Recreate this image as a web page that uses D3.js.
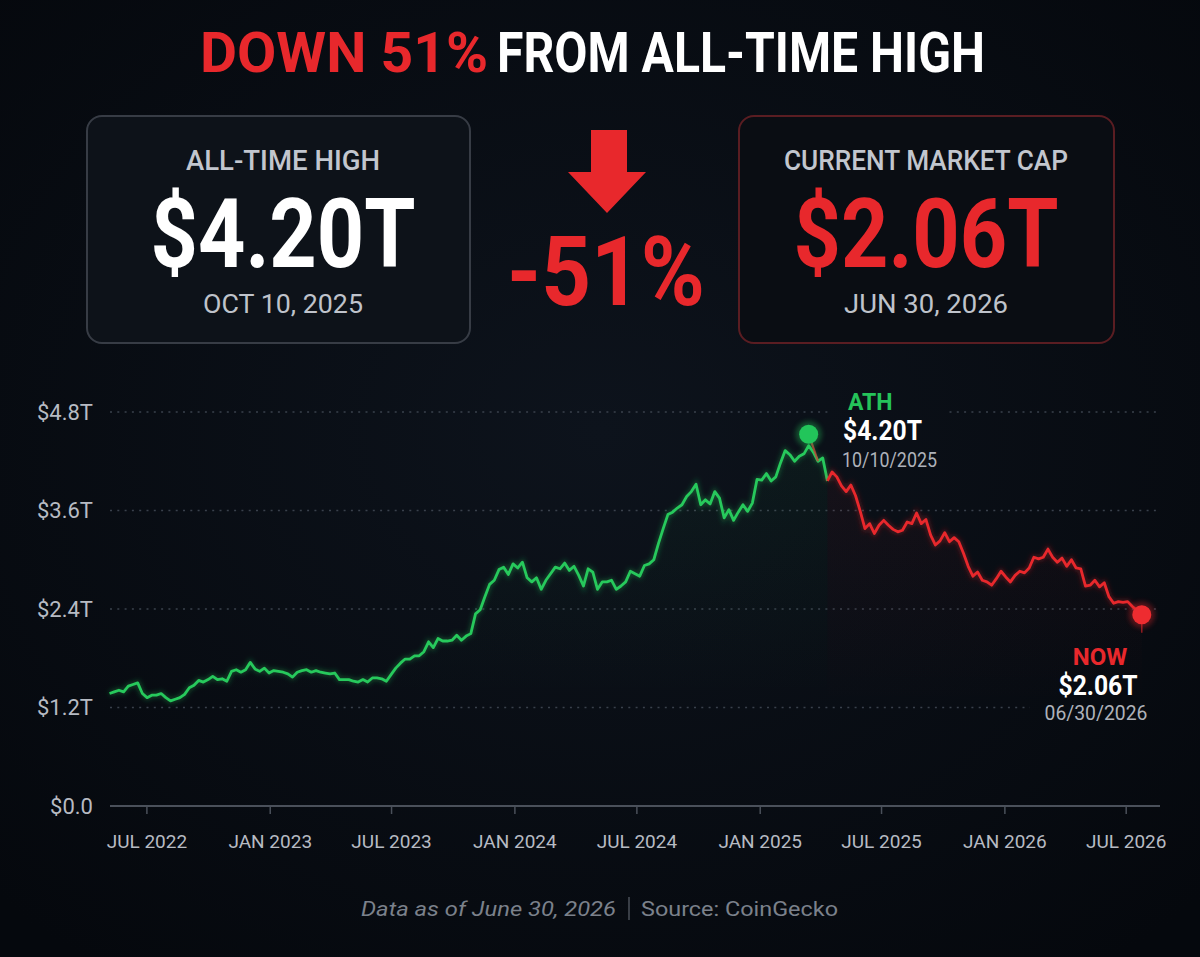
<!DOCTYPE html>
<html>
<head>
<meta charset="utf-8">
<script src="https://cdn.jsdelivr.net/npm/d3@7"></script>
<style>
  html, body { margin: 0; padding: 0; background: #070b12; }
  svg { display: block; font-family: Roboto, "Noto Sans", sans-serif; }
</style>
</head>
<body>
<div id="chart"></div>
<script>
// Weekly total crypto market cap, in trillions of USD
var startDate = new Date(2022, 4, 7);
var stepDays = 7;
var capValues = [
  1.37, 1.39, 1.41, 1.39, 1.46, 1.48, 1.50, 1.37, 1.32, 1.35,
  1.35, 1.37, 1.32, 1.28, 1.30, 1.32, 1.36, 1.44, 1.47, 1.53,
  1.51, 1.54, 1.58, 1.54, 1.55, 1.52, 1.64, 1.66, 1.63, 1.66,
  1.75, 1.67, 1.64, 1.68, 1.62, 1.65, 1.64, 1.63, 1.61, 1.57,
  1.63, 1.65, 1.66, 1.63, 1.65, 1.63, 1.62, 1.61, 1.62, 1.54,
  1.54, 1.54, 1.52, 1.51, 1.54, 1.51, 1.56, 1.56, 1.55, 1.52,
  1.60, 1.68, 1.74, 1.79, 1.79, 1.83, 1.83, 1.88, 2.00, 1.93,
  2.04, 2.01, 2.01, 2.02, 2.08, 2.02, 2.07, 2.10, 2.34, 2.39,
  2.55, 2.70, 2.75, 2.88, 2.91, 2.82, 2.95, 2.90, 2.97, 2.78,
  2.73, 2.78, 2.64, 2.75, 2.83, 2.91, 2.89, 2.96, 2.87, 2.92,
  2.81, 2.68, 2.89, 2.85, 2.64, 2.73, 2.73, 2.75, 2.64, 2.68,
  2.73, 2.86, 2.83, 2.80, 2.93, 2.95, 3.00, 3.20, 3.38, 3.55,
  3.58, 3.63, 3.67, 3.77, 3.83, 3.92, 3.67, 3.73, 3.68, 3.83,
  3.75, 3.51, 3.61, 3.48, 3.58, 3.67, 3.59, 3.69, 3.98, 3.97,
  4.05, 3.96, 4.01, 4.18, 4.33, 4.28, 4.20, 4.26, 4.29, 4.39,
  4.31, 4.20, 4.24, 3.96, 4.07, 4.01, 3.90, 3.83, 3.91, 3.78,
  3.59, 3.38, 3.44, 3.32, 3.42, 3.48, 3.42, 3.37, 3.34, 3.36,
  3.46, 3.44, 3.57, 3.44, 3.49, 3.30, 3.18, 3.23, 3.33, 3.22,
  3.27, 3.22, 3.08, 2.92, 2.80, 2.85, 2.75, 2.73, 2.69, 2.77,
  2.86, 2.79, 2.73, 2.81, 2.86, 2.84, 2.90, 3.03, 3.01, 3.03,
  3.13, 3.03, 2.97, 3.02, 2.92, 3.00, 2.90, 2.89, 2.68, 2.69,
  2.75, 2.67, 2.72, 2.55, 2.47, 2.49, 2.48, 2.49, 2.43, 2.38,
  2.33
];

// Markers
var athIndex = 149;          // where the ATH dot sits on the chart
var athMarkerValue = 4.53;   // dot is drawn just above the line
var splitIndex = 153;        // line turns from green to red here
var nowIndex = capValues.length - 1;

// Axes
var yTicks = [0, 1.2, 2.4, 3.6, 4.8];
var yTickLabels = ["$0.0", "$1.2T", "$2.4T", "$3.6T", "$4.8T"];
var xTickDates = ["2022-07-01", "2023-01-01", "2023-07-01", "2024-01-01", "2024-07-01",
                  "2025-01-01", "2025-07-01", "2026-01-01", "2026-07-01"];
var xTickLabels = ["JUL 2022", "JAN 2023", "JUL 2023", "JAN 2024", "JUL 2024",
                   "JAN 2025", "JUL 2025", "JAN 2026", "JUL 2026"];

var width = 1200, height = 957;
var GREEN = "#27c95c", RED = "#e8282c";

var data = capValues.map(function(v, i) {
    return { date: d3.timeDay.offset(startDate, i * stepDays), value: v };
});
var parseDate = d3.timeParse("%Y-%m-%d");

var svg = d3.select("#chart").append("svg")
    .attr("width", width)
    .attr("height", height);

var defs = svg.append("defs");

// background glow
var bgGrad = defs.append("radialGradient").attr("id", "bgGrad")
    .attr("cx", "50%").attr("cy", "45%").attr("r", "70%");
bgGrad.append("stop").attr("offset", "0%").attr("stop-color", "#0d131c");
bgGrad.append("stop").attr("offset", "100%").attr("stop-color", "#05080d");

var glow = defs.append("filter").attr("id", "glow")
    .attr("x", "-20%").attr("y", "-20%").attr("width", "140%").attr("height", "140%");
glow.append("feGaussianBlur").attr("stdDeviation", 2.5);

function areaGrad(id, color) {
    var g = defs.append("linearGradient").attr("id", id)
        .attr("x1", 0).attr("y1", 0).attr("x2", 0).attr("y2", 1);
    g.append("stop").attr("offset", "0%").attr("stop-color", color).attr("stop-opacity", 0.05);
    g.append("stop").attr("offset", "70%").attr("stop-color", color).attr("stop-opacity", 0);
}
areaGrad("greenArea", GREEN);
areaGrad("redArea", RED);

// grid is hidden behind the two annotation blocks
var gridMask = defs.append("mask").attr("id", "gridMask");
gridMask.append("rect").attr("width", width).attr("height", height).attr("fill", "#fff");
gridMask.append("rect").attr("x", 830).attr("y", 395).attr("width", 118).attr("height", 80).attr("fill", "#000");
gridMask.append("rect").attr("x", 1030).attr("y", 640).attr("width", 140).attr("height", 88).attr("fill", "#000");

svg.append("rect").attr("width", width).attr("height", height).attr("fill", "url(#bgGrad)");

// ---------- Header ----------
svg.append("text")
    .attr("x", 200).attr("y", 72)
    .attr("textLength", 288).attr("lengthAdjust", "spacingAndGlyphs")
    .attr("font-size", 56).attr("font-weight", 700).attr("fill", RED)
    .text("DOWN 51%");
svg.append("text")
    .attr("x", 497).attr("y", 72)
    .attr("textLength", 488).attr("lengthAdjust", "spacingAndGlyphs")
    .attr("font-size", 56).attr("font-weight", 700).attr("fill", "#ffffff")
    .text("FROM ALL-TIME HIGH");

// stat boxes
function statBox(x, w, stroke, fill, cx, label, labelW, value, valueW, valueColor, date, dateW) {
    svg.append("rect")
        .attr("x", x).attr("y", 116).attr("width", w).attr("height", 227)
        .attr("rx", 15)
        .attr("fill", fill)
        .attr("stroke", stroke).attr("stroke-width", 2);
    svg.append("text")
        .attr("x", cx).attr("y", 170).attr("text-anchor", "middle")
        .attr("textLength", labelW).attr("lengthAdjust", "spacingAndGlyphs")
        .attr("font-size", 28).attr("font-weight", 500).attr("fill", "#c2c6ce")
        .text(label);
    svg.append("text")
        .attr("x", cx).attr("y", 267).attr("text-anchor", "middle")
        .attr("textLength", valueW).attr("lengthAdjust", "spacingAndGlyphs")
        .attr("font-size", 97).attr("font-weight", 700).attr("fill", valueColor)
        .text(value);
    svg.append("text")
        .attr("x", cx).attr("y", 313).attr("text-anchor", "middle")
        .attr("textLength", dateW).attr("lengthAdjust", "spacingAndGlyphs")
        .attr("font-size", 25).attr("fill", "#bfc3cb")
        .text(date);
}
statBox(87, 383, "#373c45", "#0d1219", 283, "ALL-TIME HIGH", 194, "$4.20T", 265, "#ffffff", "OCT 10, 2025", 160);
statBox(739, 375, "#5a1d22", "#0a0d13", 926, "CURRENT MARKET CAP", 284, "$2.06T", 265, RED, "JUN 30, 2026", 164);

// down arrow and percentage
svg.append("path")
    .attr("d", "M591,130 L627,130 L627,172 L646,172 L607,213 L568,172 L591,172 Z")
    .attr("fill", RED);
svg.append("text")
    .attr("x", 606).attr("y", 305).attr("text-anchor", "middle")
    .attr("textLength", 198).attr("lengthAdjust", "spacingAndGlyphs")
    .attr("font-size", 96).attr("font-weight", 700).attr("fill", RED)
    .text("-51%");

// ---------- Chart ----------
var x = d3.scaleTime()
    .domain([new Date(2022, 6, 1), new Date(2026, 6, 1)])
    .range([146.4, 1125.7]);
var y = d3.scaleLinear()
    .domain([0, 4.8])
    .range([806, 412]);

// gridlines
svg.append("g").attr("mask", "url(#gridMask)").selectAll("line")
    .data(yTicks.filter(function(d) { return d > 0; }))
    .enter().append("line")
    .attr("x1", 110).attr("x2", 1160)
    .attr("y1", function(d) { return y(d); })
    .attr("y2", function(d) { return y(d); })
    .attr("stroke", "#3a414c")
    .attr("stroke-width", 1.6)
    .attr("stroke-dasharray", "2,5.3");

// y axis labels
var yAxis = svg.append("g")
    .attr("transform", "translate(100,0)")
    .call(d3.axisLeft(y).tickValues(yTicks).tickSize(0).tickPadding(7)
        .tickFormat(function(d, i) { return yTickLabels[i]; }));
yAxis.select(".domain").remove();
yAxis.selectAll("text")
    .attr("font-family", "Roboto, sans-serif")
    .attr("font-size", 22)
    .attr("fill", "#b7bbc3");

// baseline + x axis
svg.append("line")
    .attr("x1", 110).attr("x2", 1160).attr("y1", 806).attr("y2", 806)
    .attr("stroke", "#4a505a").attr("stroke-width", 2);
var xAxis = svg.append("g")
    .attr("transform", "translate(0,806)")
    .call(d3.axisBottom(x).tickValues(xTickDates.map(parseDate)).tickSize(8).tickPadding(21)
        .tickFormat(function(d, i) { return xTickLabels[i]; }));
xAxis.select(".domain").remove();
xAxis.selectAll("line").attr("stroke", "#4a505a").attr("stroke-width", 1.5);
xAxis.selectAll("text")
    .attr("font-family", "Roboto, sans-serif")
    .attr("font-size", 19)
    .attr("fill", "#b7bbc3");

var greenData = data.slice(0, splitIndex + 1);
var redData = data.slice(splitIndex);

var area = d3.area()
    .x(function(d) { return x(d.date); })
    .y0(806)
    .y1(function(d) { return y(d.value); });
var line = d3.line()
    .x(function(d) { return x(d.date); })
    .y(function(d) { return y(d.value); });

svg.append("path").datum(greenData).attr("d", area).attr("fill", "url(#greenArea)");
svg.append("path").datum(redData).attr("d", area).attr("fill", "url(#redArea)");

[[greenData, GREEN], [redData, RED]].forEach(function(s) {
    svg.append("path").datum(s[0]).attr("d", line)
        .attr("fill", "none").attr("stroke", s[1]).attr("stroke-width", 5)
        .attr("stroke-opacity", 0.3).attr("filter", "url(#glow)");
    svg.append("path").datum(s[0]).attr("d", line)
        .attr("fill", "none").attr("stroke", s[1]).attr("stroke-width", 2.8)
        .attr("stroke-linejoin", "round");
});

// ATH marker
var athX = x(data[athIndex].date), athY = y(athMarkerValue);
svg.append("line")
    .attr("x1", athX).attr("y1", athY)
    .attr("x2", x(data[athIndex + 2].date)).attr("y2", y(data[athIndex + 2].value))
    .attr("stroke", "#c0483a").attr("stroke-width", 2.2).attr("stroke-opacity", 0.8);
svg.append("circle").attr("cx", athX).attr("cy", athY).attr("r", 13)
    .attr("fill", GREEN).attr("opacity", 0.35).attr("filter", "url(#glow)");
svg.append("circle").attr("cx", athX).attr("cy", athY).attr("r", 9.5).attr("fill", "#22c55a");

// NOW marker
var nowX = x(data[nowIndex].date), nowY = y(data[nowIndex].value);
svg.append("line")
    .attr("x1", nowX).attr("y1", nowY).attr("x2", nowX).attr("y2", nowY + 18)
    .attr("stroke", RED).attr("stroke-width", 1.5).attr("stroke-opacity", 0.6);
svg.append("circle").attr("cx", nowX).attr("cy", nowY).attr("r", 13)
    .attr("fill", RED).attr("opacity", 0.35).attr("filter", "url(#glow)");
svg.append("circle").attr("cx", nowX).attr("cy", nowY).attr("r", 9.5).attr("fill", "#ee2c30");

// annotations
svg.append("text").attr("x", 848).attr("y", 410)
    .attr("font-size", 23).attr("font-weight", 700).attr("fill", "#25c35a").text("ATH");
svg.append("text").attr("x", 843).attr("y", 440)
    .attr("textLength", 79).attr("lengthAdjust", "spacingAndGlyphs")
    .attr("font-size", 27).attr("font-weight", 700).attr("fill", "#ffffff").text("$4.20T");
svg.append("text").attr("x", 842).attr("y", 467)
    .attr("textLength", 95).attr("lengthAdjust", "spacingAndGlyphs")
    .attr("font-size", 20).attr("fill", "#aeb2ba").text("10/10/2025");

svg.append("text").attr("x", 1100).attr("y", 665).attr("text-anchor", "middle")
    .attr("font-size", 24).attr("font-weight", 700).attr("fill", RED).text("NOW");
svg.append("text").attr("x", 1098).attr("y", 695).attr("text-anchor", "middle")
    .attr("textLength", 79).attr("lengthAdjust", "spacingAndGlyphs")
    .attr("font-size", 28).attr("font-weight", 700).attr("fill", "#ffffff").text("$2.06T");
svg.append("text").attr("x", 1096).attr("y", 720).attr("text-anchor", "middle")
    .attr("textLength", 103).attr("lengthAdjust", "spacingAndGlyphs")
    .attr("font-size", 20).attr("fill", "#aeb2ba").text("06/30/2026");

// ---------- Footer ----------
svg.append("text").attr("x", 361).attr("y", 916)
    .attr("textLength", 255).attr("lengthAdjust", "spacingAndGlyphs")
    .attr("font-size", 21).attr("font-style", "italic").attr("fill", "#7b818b")
    .text("Data as of June 30, 2026");
svg.append("line").attr("x1", 629).attr("x2", 629).attr("y1", 897).attr("y2", 920)
    .attr("stroke", "#5c626c").attr("stroke-width", 1.2);
svg.append("text").attr("x", 641).attr("y", 916)
    .attr("textLength", 197).attr("lengthAdjust", "spacingAndGlyphs")
    .attr("font-size", 21).attr("fill", "#7b818b")
    .text("Source: CoinGecko");
</script>
</body>
</html>
